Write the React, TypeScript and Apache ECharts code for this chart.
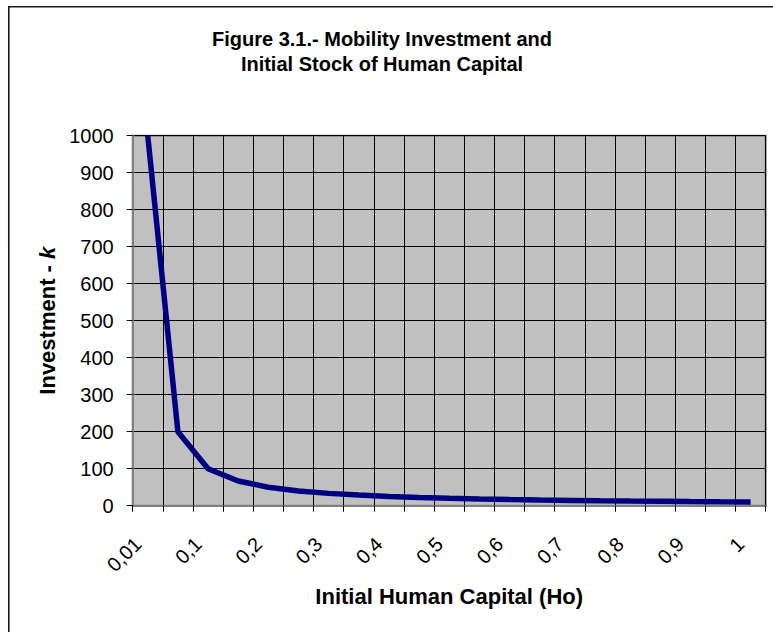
import React, { useEffect, useRef } from "react";
import * as echarts from "echarts";

// Initial human capital Ho (category axis, comma decimals)
const initialCapital: string[] = [
  "0,01", "0,05", "0,1", "0,15", "0,2", "0,25", "0,3", "0,35", "0,4", "0,45",
  "0,5", "0,55", "0,6", "0,65", "0,7", "0,75", "0,8", "0,85", "0,9", "0,95", "1",
];

// Mobility investment k for each Ho
const investment: number[] = [
  1000, 200, 100, 66.7, 50, 40, 33.3, 28.6, 25, 22.2,
  20, 18.2, 16.7, 15.4, 14.3, 13.3, 12.5, 11.8, 11.1, 10.5, 10,
];

const titleLines: string[] = [
  "Figure 3.1.- Mobility Investment and",
  "Initial Stock of Human Capital",
];

const FONT = "'Liberation Sans', Arial, Helvetica, sans-serif";

export default function App() {
  const ref = useRef<HTMLDivElement>(null);

  useEffect(() => {
    if (!ref.current) return;
    const chart = echarts.init(ref.current, undefined, { renderer: "svg" });
    chart.setOption({
      animation: false,
      backgroundColor: "#ffffff",
      textStyle: { fontFamily: FONT },
      graphic: [
        {
          type: "rect",
          shape: { x: 8.8, y: 6.8, width: 900, height: 900 },
          style: { fill: "none", stroke: "#1a1a1a", lineWidth: 1.6 },
          silent: true,
        },
        {
          type: "text",
          x: 382,
          y: 26,
          style: {
            text: titleLines.join("\n"),
            textAlign: "center",
            textVerticalAlign: "top",
            fontFamily: FONT,
            fontWeight: "bold",
            fontSize: 20,
            lineHeight: 25.5,
            fill: "#000",
          },
        },
      ],
      grid: {
        left: 132.7,
        top: 135.7,
        right: 7.3,
        bottom: 126.3,
        show: true,
        backgroundColor: "#C0C0C0",
        borderColor: "#808080",
        borderWidth: 2,
      },
      xAxis: {
        type: "category",
        data: initialCapital,
        boundaryGap: true,
        name: "Initial Human Capital (Ho)",
        nameLocation: "middle",
        nameGap: 80,
        nameTextStyle: {
          fontFamily: FONT,
          fontWeight: "bold",
          fontSize: 22,
          color: "#000",
        },
        axisLine: { lineStyle: { color: "#808080", width: 2 } },
        axisTick: {
          show: true,
          interval: 0,
          length: 6,
          lineStyle: { color: "#000", width: 1 },
        },
        axisLabel: {
          interval: 1,
          rotate: 45,
          margin: 25,
          padding: [0, 14, 0, 0],
          fontFamily: FONT,
          fontSize: 20,
          color: "#000",
        },
        splitLine: {
          show: true,
          interval: 0,
          lineStyle: { color: "#000", width: 1 },
        },
      },
      yAxis: {
        type: "value",
        min: 0,
        max: 1000,
        interval: 100,
        name: "{a|Investment - }{b|k}",
        nameLocation: "middle",
        nameRotate: 90,
        nameGap: 69,
        nameTextStyle: {
          rich: {
            a: {
              fontFamily: FONT,
              fontWeight: "bold",
              fontSize: 22,
              color: "#000",
            },
            b: {
              fontFamily: FONT,
              fontWeight: "bold",
              fontStyle: "italic",
              fontSize: 22,
              color: "#000",
            },
          },
        },
        axisLine: { show: true, lineStyle: { color: "#808080", width: 2 } },
        axisTick: {
          show: true,
          length: 6,
          lineStyle: { color: "#000", width: 1 },
        },
        axisLabel: {
          margin: 19,
          fontFamily: FONT,
          fontSize: 20,
          color: "#000",
          formatter: (v: number) => String(v),
        },
        splitLine: { show: true, lineStyle: { color: "#000", width: 1 } },
      },
      series: [
        {
          type: "line",
          data: investment,
          symbol: "none",
          lineStyle: { color: "#000080", width: 5.5 },
          itemStyle: { color: "#000080" },
        },
      ],
    });
    return () => chart.dispose();
  }, []);

  return (
    <div
      ref={ref}
      style={{ position: "fixed", left: 0, top: 0, width: 773, height: 632 }}
    />
  );
}
